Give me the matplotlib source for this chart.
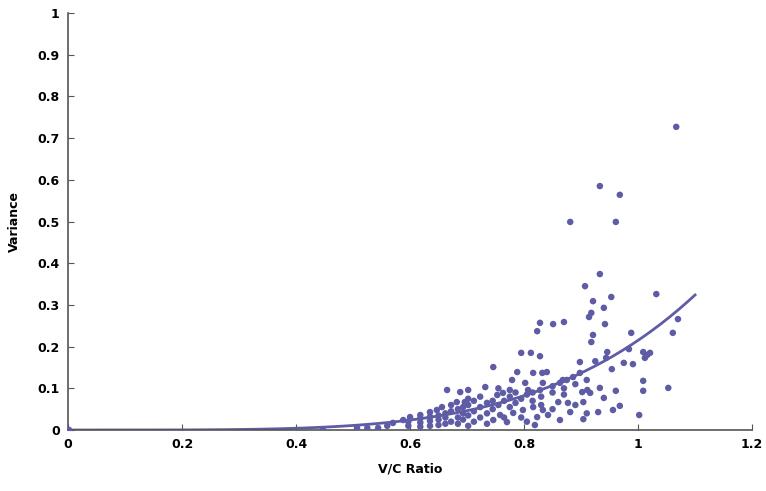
import numpy as np
import matplotlib.pyplot as plt

# V/C ratio and variance for each observation
vc_ratio = [
    1.067, 0.933, 0.968, 0.881, 0.961, 0.933, 0.907, 0.953, 1.032, 0.921,
    0.940, 0.918, 0.914, 0.851, 0.870, 0.942, 1.070, 0.828, 0.823, 0.921,
    0.918, 0.988, 1.061, 0.984, 0.946, 1.016, 1.009, 1.021, 1.012, 0.898,
    0.925, 0.991, 0.975, 0.954, 0.944, 1.009, 1.009, 1.053, 1.002, 0.933,
    0.961, 0.940, 0.968, 0.956, 0.930, 0.904, 0.902, 0.916, 0.795, 0.812,
    0.828, 0.746, 0.788, 0.816, 0.832, 0.840, 0.779, 0.833, 0.828, 0.802,
    0.807, 0.775, 0.753, 0.763, 0.863, 0.875, 0.886, 0.898, 0.868, 0.860,
    0.877, 0.881, 0.911, 0.904, 0.833, 0.816, 0.798, 0.781, 0.758, 0.823,
    0.842, 0.863, 0.819, 0.746, 0.770, 0.665, 0.688, 0.702, 0.732, 0.682,
    0.696, 0.447, 0.507, 0.544, 0.570, 0.588, 0.600, 0.618, 0.635, 0.647,
    0.656, 0.525, 0.560,
    0.597, 0.597, 0.618, 0.618, 0.618, 0.635, 0.635, 0.635, 0.650, 0.650,
    0.650, 0.662, 0.662, 0.662, 0.672, 0.672, 0.672, 0.684, 0.684, 0.684,
    0.693, 0.693, 0.693, 0.702, 0.702, 0.702, 0.702, 0.712, 0.712, 0.712,
    0.723, 0.723, 0.723, 0.735, 0.735, 0.735, 0.745, 0.745, 0.755, 0.755,
    0.765, 0.765, 0.775, 0.775, 0.785, 0.785, 0.795, 0.795, 0.805, 0.805,
    0.815, 0.815, 0.830, 0.830, 0.850, 0.850, 0.850, 0.870, 0.870, 0.890,
    0.890, 0.910, 0.910,
]
variance = [
    0.727, 0.585, 0.564, 0.499, 0.499, 0.374, 0.345, 0.319, 0.326, 0.309,
    0.293, 0.281, 0.271, 0.254, 0.259, 0.254, 0.266, 0.257, 0.237, 0.228,
    0.211, 0.233, 0.233, 0.194, 0.187, 0.180, 0.187, 0.185, 0.173, 0.163,
    0.165, 0.158, 0.161, 0.146, 0.173, 0.118, 0.094, 0.101, 0.036, 0.101,
    0.094, 0.077, 0.058, 0.048, 0.043, 0.026, 0.091, 0.089, 0.185, 0.185,
    0.177, 0.151, 0.139, 0.137, 0.137, 0.139, 0.120, 0.113, 0.096, 0.113,
    0.096, 0.096, 0.084, 0.089, 0.113, 0.120, 0.127, 0.137, 0.120, 0.067,
    0.065, 0.043, 0.096, 0.067, 0.048, 0.055, 0.048, 0.041, 0.036, 0.031,
    0.036, 0.024, 0.012, 0.024, 0.019, 0.096, 0.091, 0.096, 0.103, 0.067,
    0.067, 0.001, 0.005, 0.005, 0.017, 0.024, 0.031, 0.036, 0.043, 0.048,
    0.055, 0.005, 0.010,
    0.010, 0.020, 0.008, 0.018, 0.028, 0.010, 0.022, 0.032, 0.012, 0.025,
    0.035, 0.015, 0.030, 0.040, 0.020, 0.045, 0.060, 0.015, 0.030, 0.050,
    0.025, 0.040, 0.055, 0.010, 0.035, 0.060, 0.075, 0.020, 0.045, 0.070,
    0.030, 0.055, 0.080, 0.015, 0.040, 0.065, 0.050, 0.070, 0.060, 0.100,
    0.030, 0.070, 0.055, 0.080, 0.065, 0.090, 0.075, 0.030, 0.085, 0.020,
    0.090, 0.070, 0.080, 0.060, 0.090, 0.105, 0.050, 0.100, 0.085, 0.110,
    0.060, 0.120, 0.040,
]

# power trendline y = a * x^b
trend_a = 0.215
trend_b = 4.3
trend_xmax = 1.1

color = '#5f5ca6'
font = 'Liberation Sans Narrow'

fig = plt.figure(figsize=(7.66, 4.91), dpi=100)
ax = fig.add_axes([0.0888, 0.1242, 0.8930, 0.8493])

ax.scatter([0], [0], s=22, color=color, zorder=3)
ax.scatter(vc_ratio, variance, s=22, color=color, edgecolors='none', zorder=3)

tx = np.linspace(0, trend_xmax, 200)
ax.plot(tx, trend_a * tx ** trend_b, color=color, linewidth=2, zorder=2)

ax.set_xlim(0, 1.2)
ax.set_ylim(0, 1)
ax.set_xticks([0, 0.2, 0.4, 0.6, 0.8, 1, 1.2])
ax.set_xticklabels(['0', '0.2', '0.4', '0.6', '0.8', '1', '1.2'])
ax.set_yticks(np.arange(0, 1.01, 0.1))
ax.set_yticklabels(['0', '0.1', '0.2', '0.3', '0.4', '0.5', '0.6', '0.7', '0.8', '0.9', '1'])

for side in ['top', 'right']:
    ax.spines[side].set_visible(False)
for side in ['left', 'bottom']:
    ax.spines[side].set_color('#555555')
    ax.spines[side].set_linewidth(1.2)

ax.tick_params(direction='in', length=4, color='#555555', labelsize=9, pad=6)
for lbl in ax.get_xticklabels() + ax.get_yticklabels():
    lbl.set_fontweight('bold')
    lbl.set_family(font)

ax.set_xlabel('V/C Ratio', fontsize=9, fontweight='bold', family=font, labelpad=8)
ax.set_ylabel('Variance', fontsize=9, fontweight='bold', family=font, labelpad=12)

fig.savefig('out.png', dpi=100)
